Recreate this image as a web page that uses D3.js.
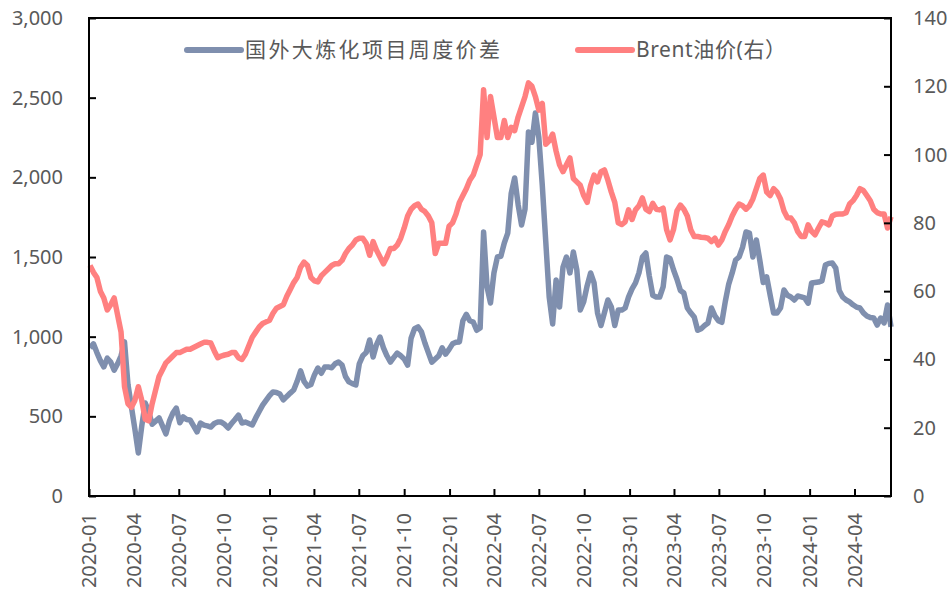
<!DOCTYPE html>
<html>
<head>
<meta charset="utf-8">
<script src="https://cdn.jsdelivr.net/npm/d3@7"></script>
<style>
  body { margin: 0; background: #fff; }
  svg { display: block; }
  text { font-family: "Noto Sans", "Noto Sans CJK SC", sans-serif; fill: #595959; }
</style>
</head>
<body>
<svg id="chart" width="950" height="592"></svg>
<script>
// weekly observations, first one on 2020-01-03
const firstWeek = new Date(2020, 0, 3);

// 国外大炼化项目周度价差 (left axis)
const spread = [
  929, 955, 900, 850, 810, 865, 840, 790, 830, 880,
  967, 700, 560, 420, 270, 440, 584, 530, 450, 470,
  490, 440, 390, 470, 520, 552, 460, 496, 480, 477,
  440, 402, 458, 445, 440, 433, 455, 464, 464, 450,
  427, 455, 480, 508, 458, 464, 455, 446, 490, 530,
  570, 600, 630, 653, 650, 640, 603, 625, 646, 665,
  720, 785, 720, 690, 700, 760, 803, 770, 810, 810,
  805, 830, 841, 822, 750, 716, 705, 697, 830, 880,
  900, 979, 872, 950, 998, 930, 880, 841, 870, 897,
  880, 860, 822, 990, 1050, 1061, 1030, 960, 900, 840,
  860, 880, 930, 890, 920, 955, 965, 967, 1100, 1140,
  1100, 1092, 1040, 1054, 1657, 1312, 1211, 1400, 1500, 1505,
  1588, 1650, 1900, 1996, 1830, 1701, 1800, 2285, 2220, 2404,
  2250, 1950, 1600, 1250, 1080, 1356, 1186, 1437, 1500, 1400,
  1531, 1420, 1167, 1220, 1320, 1400, 1337, 1149, 1070, 1150,
  1230, 1186, 1070, 1167, 1167, 1180, 1250, 1300, 1337, 1400,
  1500, 1525, 1380, 1260, 1249, 1249, 1312, 1500, 1490, 1420,
  1360, 1290, 1274, 1180, 1150, 1124, 1040, 1050, 1070, 1086,
  1180, 1130, 1100, 1090, 1220, 1330, 1400, 1481, 1500, 1560,
  1657, 1650, 1500, 1607, 1480, 1340, 1375, 1260, 1149, 1149,
  1180, 1293, 1260, 1249, 1230, 1255, 1250, 1243, 1210, 1337,
  1340, 1343, 1350, 1450, 1460, 1462, 1430, 1290, 1249, 1230,
  1218, 1200, 1186, 1180, 1149, 1130, 1120, 1117, 1073, 1117,
  1086, 1199, 1061
];

// Brent油价 (right axis)
const brent = [
  67.5, 65.5, 64, 60, 58, 54.5, 56, 58, 53, 48,
  32, 27, 26, 28, 32, 28, 22.5, 22, 27, 31,
  35, 37, 39, 40, 41, 42, 42, 42.5, 43, 43,
  43.5, 44, 44.5, 45, 45, 44.8, 42.5, 40.5, 41, 41.3,
  41.5, 42, 42, 40.5, 40, 41.5, 44, 46.5, 48, 49.5,
  50.5, 51, 51.5, 53.5, 55, 55.5, 56, 58.5, 60.5, 62.5,
  64, 67, 68.5, 67.5, 64, 63, 62.7, 64.5, 65.5, 66.5,
  67.5, 68, 68, 69, 71, 72.5, 73.5, 75, 75.5, 75.5,
  74, 70.5, 74.5, 72, 70, 68, 70, 72.5, 72.5, 73.5,
  75.5, 78.5, 82, 84, 85, 85.5, 84, 83.3, 82, 80,
  71, 74, 74, 74, 79, 80, 82.5, 86, 88, 90,
  92.5, 94, 97, 100, 119, 105, 117, 111, 105, 105,
  110, 105, 108, 107, 111, 114, 117, 121, 120, 117,
  113, 115, 103, 104, 106, 101, 97, 95, 97, 99,
  93, 92, 91, 88, 86, 91, 94, 92, 95, 95.5,
  92.5, 89, 86, 80, 79.5, 80.3, 83.8, 81, 83.8, 85,
  87.3, 84, 83.3, 85.7, 84, 83.8, 84.3, 78, 75, 78,
  83.5, 85.2, 84, 82, 78, 76, 76, 75.8, 75.7, 75.5,
  74.5, 75.5, 73.5, 75, 77.5, 79.5, 82, 84, 85.5, 85,
  84, 85, 87, 90, 93, 94, 89, 88, 90, 89,
  87, 83.5, 81.5, 81.4, 80, 77.4, 76, 76, 79.4, 77.5,
  76.5, 78.5, 80.3, 80, 79.4, 82, 82.5, 82.6, 82.6, 83,
  85.5, 86.5, 88, 90, 89.5, 88, 86.5, 84, 83, 82.6,
  82.6, 78.5, 81.8
];

const leftTicks = [0, 500, 1000, 1500, 2000, 2500, 3000];
const rightTicks = [0, 20, 40, 60, 80, 100, 120, 140];
const seriesNames = ["国外大炼化项目周度价差", "Brent油价(右）"];
const seriesColors = ["#7f8fae", "#ff8080"];

const svg = d3.select("#chart");
const plot = {left: 89, right: 891, top: 18, bottom: 496};

const dates = spread.map((d, i) => d3.timeDay.offset(firstWeek, 7 * i));

const x = d3.scaleTime()
    .domain([new Date(2020, 0, 1), new Date(2024, 5, 14)])
    .range([plot.left, plot.right]);
const yLeft = d3.scaleLinear().domain([0, 3000]).range([plot.bottom, plot.top]);
const yRight = d3.scaleLinear().domain([0, 140]).range([plot.bottom, plot.top]);

// lines first, frame on top
const lineLeft = d3.line().x((d, i) => x(dates[i])).y(d => yLeft(d));
const lineRight = d3.line().x((d, i) => x(dates[i])).y(d => yRight(d));

svg.append("path")
    .datum(spread)
    .attr("d", lineLeft)
    .attr("fill", "none")
    .attr("stroke", seriesColors[0])
    .attr("stroke-width", 5.5)
    .attr("stroke-linejoin", "round");

svg.append("path")
    .datum(brent)
    .attr("d", lineRight)
    .attr("fill", "none")
    .attr("stroke", seriesColors[1])
    .attr("stroke-width", 5.5)
    .attr("stroke-linejoin", "round");

// axes (ticks point inward)
const axisLeft = d3.axisRight(yLeft).tickValues(leftTicks).tickSize(7).tickFormat("");
const axisRight = d3.axisLeft(yRight).tickValues(rightTicks).tickSize(7).tickFormat("");
const axisBottom = d3.axisTop(x).ticks(d3.timeMonth.every(3)).tickSize(7).tickFormat("");

function styleAxis(g) {
    g.select(".domain").remove();
    g.selectAll("line").attr("stroke", "#000").attr("stroke-width", 2);
}

svg.append("g").attr("transform", `translate(${plot.left},0)`).call(axisLeft).call(styleAxis);
svg.append("g").attr("transform", `translate(${plot.right},0)`).call(axisRight).call(styleAxis);
svg.append("g").attr("transform", `translate(0,${plot.bottom})`).call(axisBottom).call(styleAxis);

svg.append("rect")
    .attr("x", plot.left)
    .attr("y", plot.top)
    .attr("width", plot.right - plot.left)
    .attr("height", plot.bottom - plot.top)
    .attr("fill", "none")
    .attr("stroke", "#000")
    .attr("stroke-width", 2);

// tick labels
svg.selectAll(".ly")
    .data(leftTicks)
    .join("text")
    .attr("class", "ly")
    .attr("x", plot.left - 26)
    .attr("y", d => yLeft(d))
    .attr("dy", "0.35em")
    .attr("text-anchor", "end")
    .style("font-size", "20px")
    .text(d3.format(","));

svg.selectAll(".ry")
    .data(rightTicks)
    .join("text")
    .attr("class", "ry")
    .attr("x", plot.right + 22)
    .attr("y", d => yRight(d))
    .attr("dy", "0.35em")
    .attr("text-anchor", "start")
    .style("font-size", "20px")
    .text(d => d);

svg.selectAll(".lx")
    .data(x.ticks(d3.timeMonth.every(3)))
    .join("text")
    .attr("class", "lx")
    .attr("transform", d => `translate(${x(d)},${plot.bottom + 17}) rotate(-90)`)
    .attr("dy", "0.35em")
    .attr("text-anchor", "end")
    .style("font-size", "20px")
    .text(d3.timeFormat("%Y-%m"));

// legend
const legendItems = [
    {name: seriesNames[0], color: seriesColors[0], x0: 187, x1: 241, spacing: 2.4},
    {name: seriesNames[1], color: seriesColors[1], x0: 578, x1: 632, spacing: 0.6}
];
const legend = svg.selectAll(".legend")
    .data(legendItems)
    .join("g")
    .attr("class", "legend");
legend.append("line")
    .attr("x1", d => d.x0)
    .attr("x2", d => d.x1)
    .attr("y1", 50)
    .attr("y2", 50)
    .attr("stroke", d => d.color)
    .attr("stroke-width", 6)
    .attr("stroke-linecap", "round");
legend.append("text")
    .attr("x", d => d.x1 + 4)
    .attr("y", 50)
    .attr("dy", "0.35em")
    .style("font-size", "21px")
    .style("letter-spacing", d => d.spacing + "px")
    .text(d => d.name);
</script>
</body>
</html>
